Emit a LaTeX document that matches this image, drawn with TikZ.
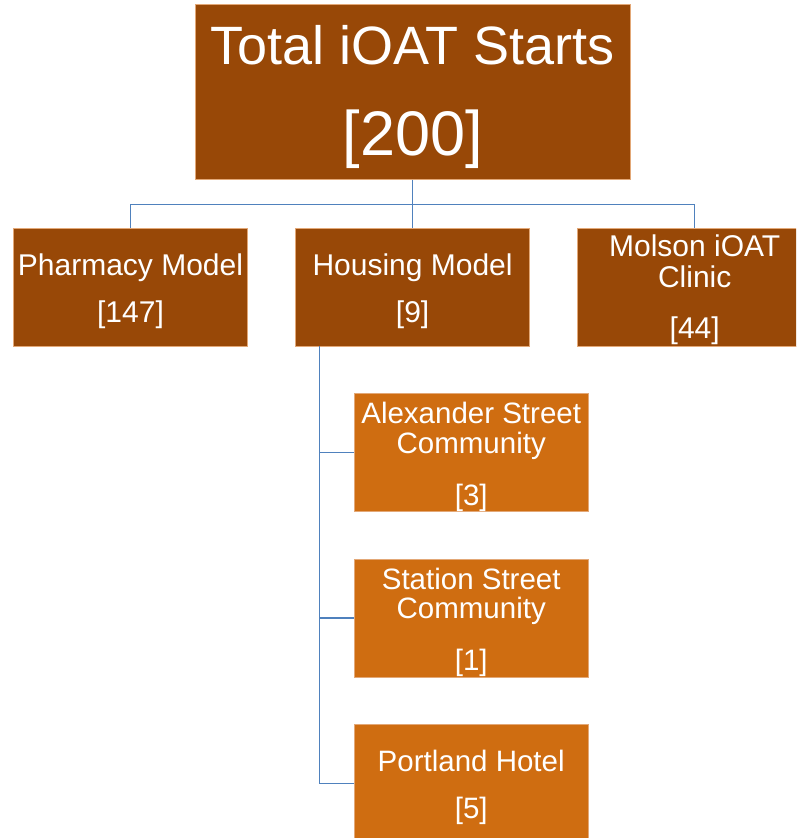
\documentclass[tikz,border=0pt]{standalone}
\usepackage{fontspec}
\setmainfont{Liberation Sans}
\definecolor{darkbox}{HTML}{984807}
\definecolor{litebox}{HTML}{CF6D11}
\definecolor{edge}{HTML}{E3A877}
\definecolor{conncol}{HTML}{4F81BD}
\begin{document}
\begin{tikzpicture}[x=1pt,y=-1pt,
  box/.style={draw=edge,line width=0.6pt,minimum width=234pt,minimum height=118pt,inner sep=0pt,anchor=center},
  dbox/.style={box,fill=darkbox},
  lbox/.style={box,fill=litebox},
  txt/.style={anchor=base,text=white,inner sep=0pt},
  mid/.style={txt,font=\fontsize{30}{32}\selectfont},
  sml/.style={txt,font=\fontsize{29.5}{32}\selectfont},
  conn/.style={draw=conncol,line width=1.2pt}]
\useasboundingbox (0,0) rectangle (796,838);
\clip (0,0) rectangle (796,838);
% boxes
\node[dbox,minimum width=435.7pt,minimum height=175.3pt] (top) at (412.85,91.65) {};
\node[dbox] (pharm) at (130.5,287.2) {};
\node[dbox] (house) at (412.6,287.2) {};
\node[dbox] (molson) at (694.7,287.5) {};
\node[lbox] (alex) at (470.85,452.5) {};
\node[lbox] (stat) at (470.85,618) {};
\node[lbox] (port) at (470.85,783.2) {};
% connectors
\draw[conn] (top.south) -- ++(0,24.7) coordinate (bus) -| (pharm.north);
\draw[conn] (bus) -| (house.north);
\draw[conn] (bus) -| (molson.north);
\coordinate (hv) at (319.5,346.2);
\draw[conn] (hv) |- (alex.west);
\draw[conn] (hv) |- (stat.west);
\draw[conn] (hv) |- (port.west);
% texts
\node[txt,font=\fontsize{54}{60}\selectfont] (topA) at (412.8,64) {Total iOAT Starts};
\node[txt,font=\fontsize{63}{70}\selectfont] (topB) at (413,155) {[200]};
\node[mid] (pharmA) at (130.5,275) {Pharmacy Model};
\node[mid] (pharmB) at (130.5,322.7) {[147]};
\node[mid] (houseA) at (412.6,275) {Housing Model};
\node[mid] (houseB) at (412.6,322.7) {[9]};
\node[mid] (molA) at (694.7,256.7) {Molson iOAT};
\node[mid] (molB) at (694.7,287.7) {Clinic};
\node[mid] (molC) at (694.7,338) {[44]};
\node[sml] (alexA) at (471.2,423.3) {Alexander Street};
\node[sml] (alexB) at (471.2,453) {Community};
\node[sml] (alexC) at (471.2,505) {[3]};
\node[sml] (statA) at (471.2,589) {Station Street};
\node[sml] (statB) at (471.2,618) {Community};
\node[sml] (statC) at (471.2,670) {[1]};
\node[sml] (portA) at (471.2,771.7) {Portland Hotel};
\node[sml] (portB) at (471.2,818) {[5]};
\end{tikzpicture}
\end{document}
